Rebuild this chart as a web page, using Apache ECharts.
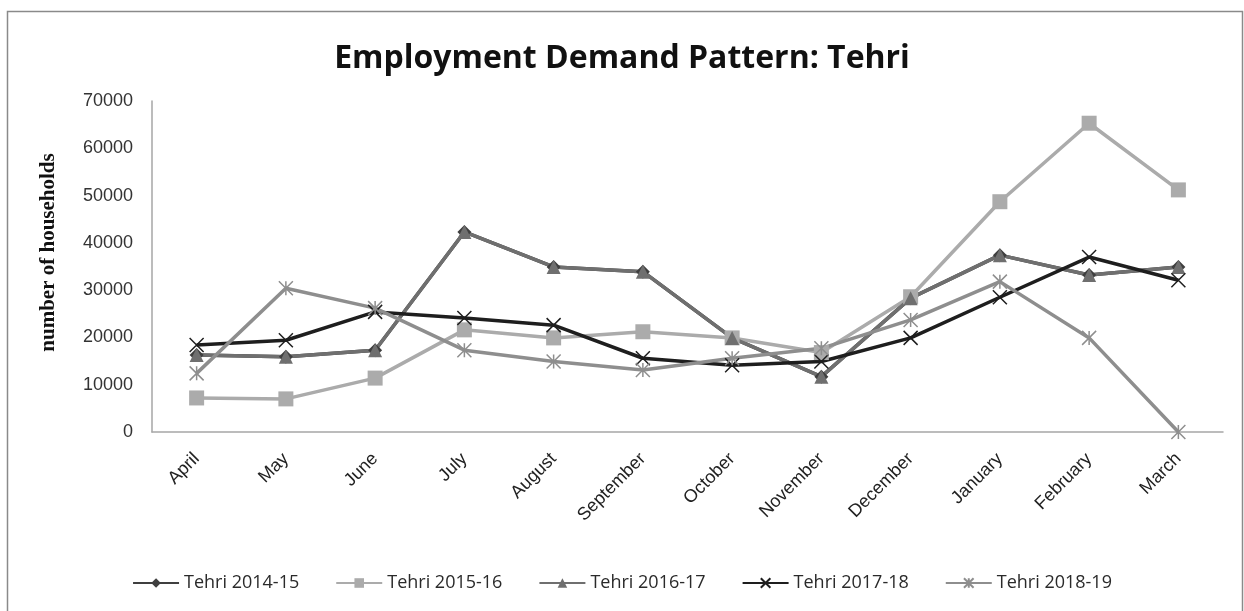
<!DOCTYPE html>
<html>
<head>
<meta charset="utf-8">
<script src="https://cdn.jsdelivr.net/npm/echarts@6/dist/echarts.min.js"></script>
<style>
  html, body { margin: 0; padding: 0; background: #fff; }
  #chart { width: 1244px; height: 611px; }
</style>
</head>
<body>
<div id="chart"></div>
<script>
// Months of the financial year (April to March)
const months = ['April', 'May', 'June', 'July', 'August', 'September', 'October',
                'November', 'December', 'January', 'February', 'March'];

// Households demanding employment, per month
const tehri1415 = [16300, 15900, 17300, 42300, 34900, 33900, 19900, 11700, 28300, 37400, 33200, 34900];
const tehri1516 = [7200, 7000, 11400, 21600, 19900, 21200, 19900, 16800, 28600, 48700, 65300, 51200];
const tehri1617 = [16300, 15900, 17300, 42300, 34900, 33900, 19900, 11700, 28300, 37400, 33200, 34900];
const tehri1718 = [18400, 19400, 25400, 24100, 22600, 15600, 14100, 14900, 19900, 28500, 37000, 32100];
const tehri1819 = [12400, 30400, 26200, 17300, 14900, 13100, 15600, 17700, 23700, 31800, 19900, 0];

const yTicks = [0, 10000, 20000, 30000, 40000, 50000, 60000, 70000];

const seriesDefs = [
  { name: 'Tehri 2014-15', data: tehri1415, color: '#3f3f3f', symbol: 'diamond', size: 14 },
  { name: 'Tehri 2015-16', data: tehri1516, color: '#ababab', symbol: 'rect', size: 15 },
  { name: 'Tehri 2016-17', data: tehri1617, color: '#6f6f6f', symbol: 'triangle', size: 14 },
  { name: 'Tehri 2017-18', data: tehri1718, color: '#1e1e1e', symbol: 'path://M0,0 L10,10 M10,0 L0,10', size: 14 },
  { name: 'Tehri 2018-19', data: tehri1819, color: '#8e8e8e', symbol: 'path://M0,0 L10,10 M10,0 L0,10 M5,0 L5,10', size: 14 }
];

const chart = echarts.init(document.getElementById('chart'), null, { renderer: 'canvas' });

chart.setOption({
  animation: false,
  backgroundColor: '#ffffff',
  graphic: [{
    type: 'rect',
    shape: { x: 7.5, y: 11.5, width: 1235, height: 610 },
    style: { fill: 'none', stroke: '#8a8a8a', lineWidth: 1.5 },
    silent: true
  }],
  title: {
    text: 'Employment Demand Pattern: Tehri',
    left: 'center',
    top: 38,
    textStyle: { fontFamily: 'Open Sans', fontWeight: 'bold', fontSize: 32, color: '#111' }
  },
  legend: {
    bottom: 14,
    left: 'center',
    itemGap: 36,
    itemWidth: 46,
    itemHeight: 12,
    textStyle: { fontFamily: 'Open Sans', fontSize: 18, color: '#2a2a2a' },
    data: seriesDefs.map(s => s.name)
  },
  grid: { left: 152, right: 21, top: 101, bottom: 179, containLabel: false },
  xAxis: {
    type: 'category',
    data: months,
    boundaryGap: true,
    axisLine: { lineStyle: { color: '#a6a6a6', width: 1.5 } },
    axisTick: { show: false },
    axisLabel: {
      rotate: 45,
      margin: 24,
      fontFamily: 'Liberation Sans',
      fontSize: 18,
      color: '#222'
    }
  },
  yAxis: {
    type: 'value',
    min: yTicks[0],
    max: yTicks[yTicks.length - 1],
    interval: yTicks[1] - yTicks[0],
    name: 'number of households',
    nameLocation: 'middle',
    nameGap: 93,
    nameRotate: 90,
    nameTextStyle: {
      fontFamily: 'Liberation Serif', fontWeight: 'bold', fontSize: 21, color: '#111',
      padding: [0, 0, 0, 28]
    },
    axisLine: { show: true, lineStyle: { color: '#a6a6a6', width: 1.5 } },
    axisTick: { show: false },
    splitLine: { show: false },
    axisLabel: {
      margin: 19,
      fontFamily: 'Liberation Sans',
      fontSize: 18,
      color: '#333',
      formatter: v => yTicks.includes(v) ? String(v) : ''
    }
  },
  series: seriesDefs.map(s => ({
    name: s.name,
    type: 'line',
    data: s.data,
    symbol: s.symbol,
    symbolSize: s.size,
    showAllSymbol: true,
    lineStyle: { color: s.color, width: 3.5 },
    itemStyle: { color: s.color, borderColor: s.color, borderWidth: s.symbol.startsWith('path') ? 1.5 : 0 },
    emphasis: { disabled: true }
  }))
});
</script>
</body>
</html>
